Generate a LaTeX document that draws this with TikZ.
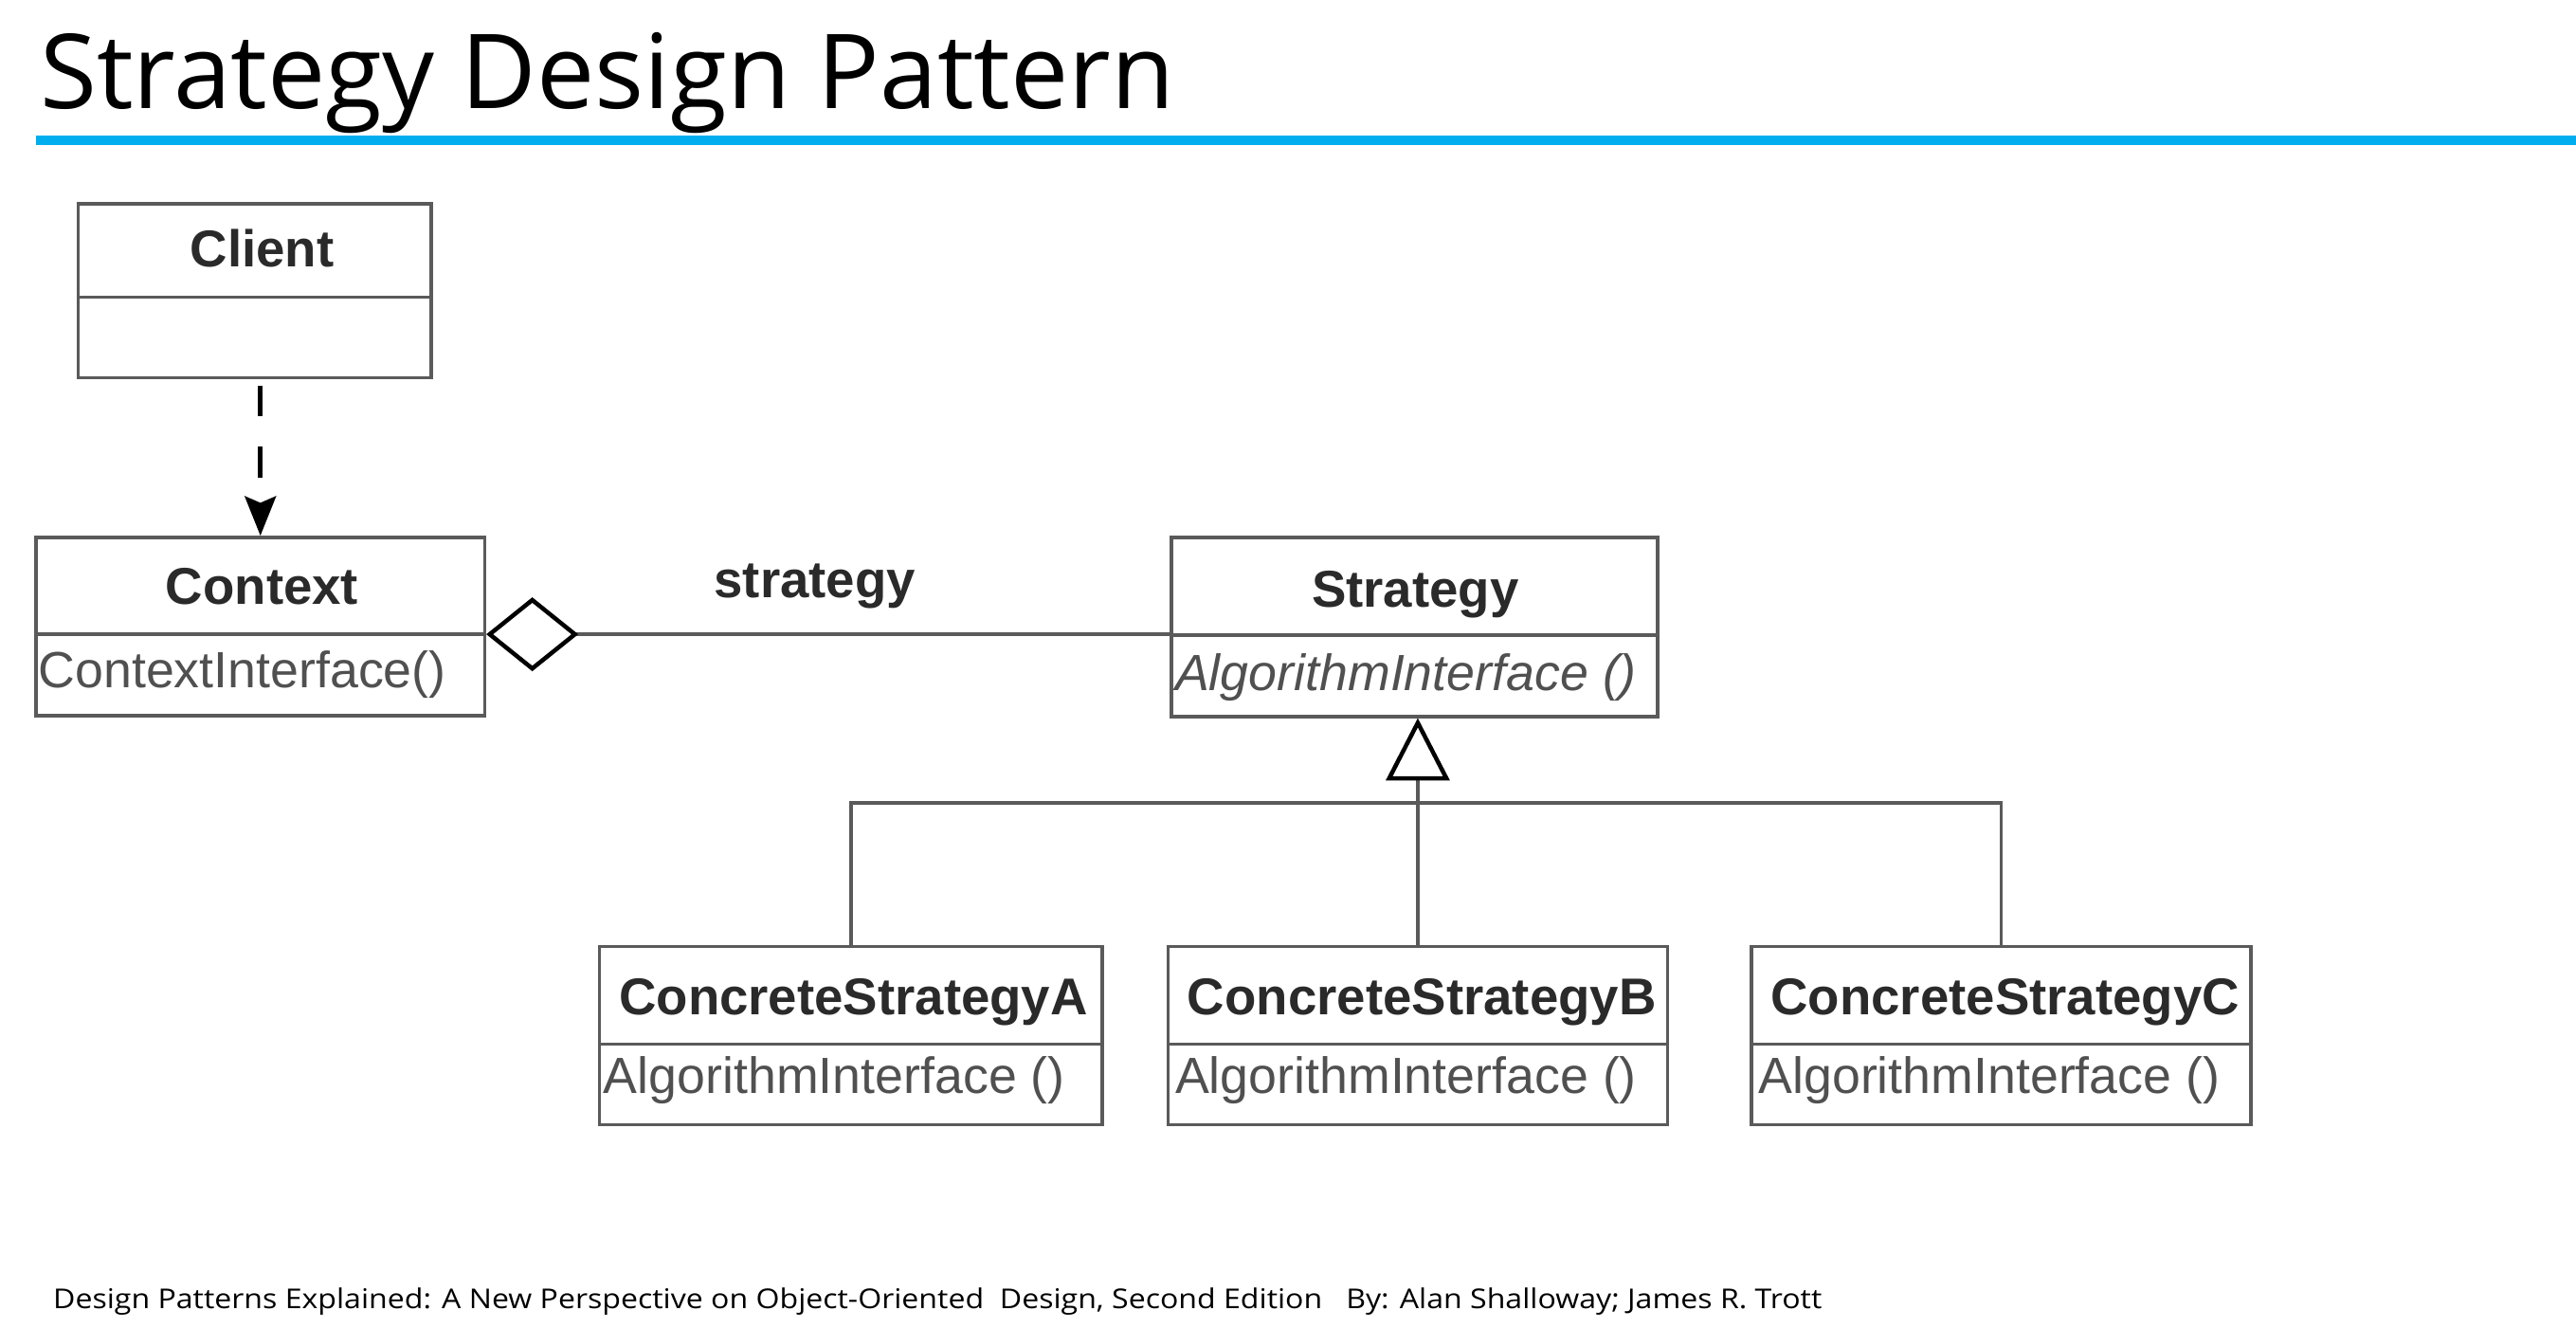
\documentclass[tikz,border=0pt]{standalone}
\usepackage{fontspec}
\setmainfont{Open Sans}
\newfontfamily\umlfont{Liberation Sans}
\usetikzlibrary{arrows.meta}
\definecolor{ruleblue}{HTML}{00AEEF}
\definecolor{umlline}{HTML}{5A5A5A}
\definecolor{umltext}{HTML}{2A2A2A}
\definecolor{umlmeth}{HTML}{505050}
\begin{document}
\begin{tikzpicture}[x=0.5pt,y=-0.5pt,
  umlbox/.style={draw=umlline, line width=1pt, inner sep=0pt, rectangle},
  clsname/.style={font=\umlfont\bfseries\fontsize{15.75}{18}\selectfont, text=umltext, inner sep=0pt, anchor=base},
  meth/.style={font=\umlfont\fontsize{15.5}{18}\selectfont, text=umlmeth, inner sep=0pt, anchor=base west},
  divider/.style={draw=umlline, line width=1pt},
  link/.style={draw=umlline, line width=1pt},
  dep/.style={draw=black, line width=1.3pt, dash pattern=on 9.25pt off 9.25pt, shorten <=2pt,
    -{Stealth[length=12pt,width=9.5pt,inset=2pt]}},
]
\useasboundingbox (0,0) rectangle (1568,808.8);

% title and rule
\node[anchor=base west, font=\fontsize{31.5}{36}\selectfont, inner sep=0pt] (title) at (24,66.3) {Strategy Design Pattern};
\draw[ruleblue, line width=2.75pt] (22,85.5) -- (1568,85.5);

% boxes
\node[umlbox, minimum width=107.5pt, minimum height=53pt] (client) at (155,177) {};
\node[umlbox, minimum width=136.5pt, minimum height=54.25pt] (context) at (158.5,381.25) {};
\node[umlbox, minimum width=148pt, minimum height=54.5pt] (strategy) at (861,381.5) {};
\node[umlbox, minimum width=153pt, minimum height=54.25pt] (csa) at (518,630.25) {};
\node[umlbox, minimum width=152pt, minimum height=54.25pt] (csb) at (863,630.25) {};
\node[umlbox, minimum width=152pt, minimum height=54.25pt] (csc) at (1218,630.25) {};

% dividers
\draw[divider] (client.west |- 0,181) -- (client.east |- 0,181);
\draw[divider] (context.west |- 0,386) -- (context.east |- 0,386);
\draw[divider] (strategy.west |- 0,386.5) -- (strategy.east |- 0,386.5);
\draw[divider] (csa.west |- 0,635.5) -- (csa.east |- 0,635.5);
\draw[divider] (csb.west |- 0,635.5) -- (csb.east |- 0,635.5);
\draw[divider] (csc.west |- 0,635.5) -- (csc.east |- 0,635.5);

% texts
\node[clsname] (clientT) at (159.5,162.5) {Client};
\node[clsname] (contextT) at (159.5,368) {Context};
\node[meth] (contextM) at (23,418.4) {ContextInterface()};
\node[clsname] (strategyT) at (861.5,369.5) {Strategy};
\node[meth, font=\umlfont\itshape\fontsize{15.5}{18}\selectfont] (strategyM) at (715,420) {AlgorithmInterface ()};
\node[clsname] (csaT) at (519.5,617.5) {ConcreteStrategyA};
\node[clsname] (csbT) at (865.5,617.5) {ConcreteStrategyB};
\node[clsname] (cscT) at (1220.5,617.5) {ConcreteStrategyC};
\node[meth] (csaM) at (367,665.3) {AlgorithmInterface ()};
\node[meth] (csbM) at (715,665.3) {AlgorithmInterface ()};
\node[meth] (cscM) at (1070,665.3) {AlgorithmInterface ()};

% connectors
\draw[dep] (client.south -| context.north) -- (context.north);
\draw[link, -{Diamond[open, length=28pt, width=22.5pt, line width=1.3pt, color=black]}]
  (strategy.west |- 0,386) -- (context.east |- 0,386);
\node[clsname] (assocLabel) at (496,364) {strategy};
\coordinate (hy) at (0,488.7);
\draw[link, -{Triangle[open, length=19pt, width=19.25pt, line width=1.3pt, color=black]}]
  (csb.north) -- (csb.north |- strategy.south);
\draw[link] (csa.north) -- (csa.north |- hy) -- (csc.north |- hy) -- (csc.north);

% footer
\node[anchor=base west, font=\fontsize{8.3}{10}\selectfont, inner sep=0pt] (footer) at (32,796.2)
  {\scalebox{1.115}[1]{Design Patterns Explained: A New Perspective on Object-Oriented\ \ Design, Second Edition\ \ \ By: Alan Shalloway; James R. Trott}};
\end{tikzpicture}
\end{document}
